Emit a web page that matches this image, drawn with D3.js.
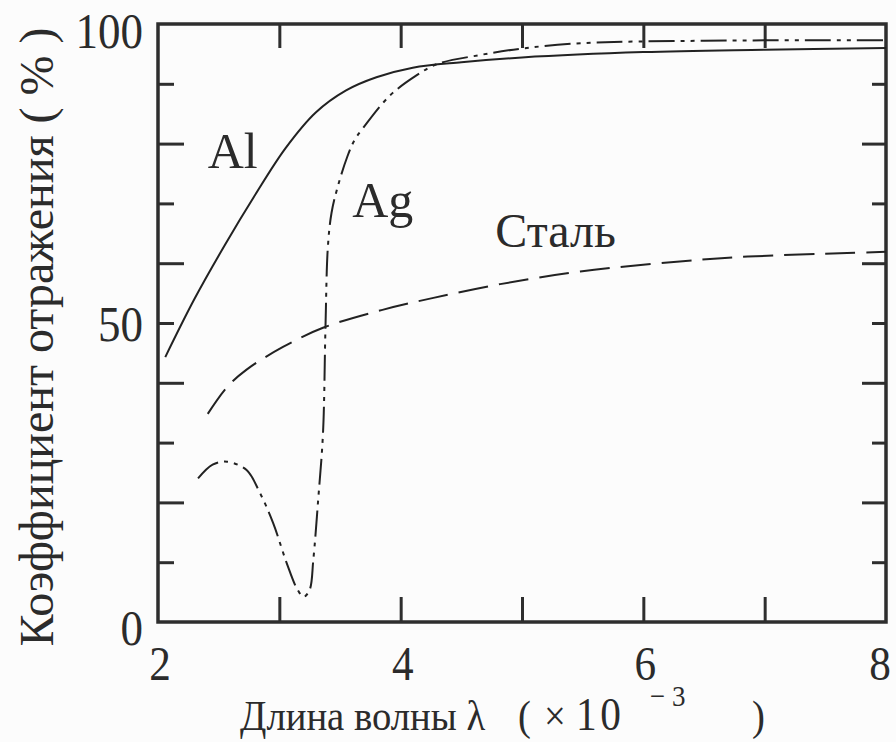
<!DOCTYPE html>
<html>
<head>
<meta charset="utf-8">
<script src="https://cdn.jsdelivr.net/npm/d3@7"></script>
<style>
  body { margin: 0; background: #fcfcfc; }
  text { font-family: "Liberation Serif", "DejaVu Serif", serif; fill: #2b2b2b; }
</style>
</head>
<body>
<div id="chart"></div>
<script>
// wavelength (x10^-3) and reflectance (%)
const alWave  = [2.06, 2.3, 2.55, 2.8, 3.05, 3.3, 3.55, 3.8, 4.1, 4.5, 5.0, 6.0, 7.0, 8.0];
const alRefl  = [44.3, 54.0, 63.0, 71.4, 79.2, 85.2, 88.9, 91.1, 92.7, 93.6, 94.4, 95.3, 95.7, 96.0];

const agWave  = [2.33, 2.45, 2.57, 2.73, 2.84, 2.95, 3.06, 3.15, 3.2, 3.25, 3.28, 3.32, 3.36, 3.38, 3.40, 3.43, 3.48, 3.56, 3.62, 3.69, 3.91, 4.13, 4.3, 4.65, 5.0, 5.5, 6.5, 8];
const agRefl  = [24, 26.3, 26.8, 25.4, 21.6, 16.5, 9.9, 5.4, 4.2, 5.4, 10.4, 20.4, 31.6, 49, 62.7, 68.4, 72.7, 77.8, 80.6, 82.6, 88.0, 91.4, 93.3, 94.8, 95.9, 96.8, 97.2, 97.3];

const steelWave = [2.41, 2.57, 2.73, 3.03, 3.36, 3.85, 4.27, 4.82, 5.48, 6.3, 6.86, 7.68, 8];
const steelRefl = [34.8, 39.3, 42.2, 46, 49.2, 52.2, 54.2, 56.5, 58.6, 60.3, 61.1, 61.7, 61.9];

const xTickLabels = [2, 4, 6, 8];
const xMinorTicks = [3, 4, 5, 6, 7];
const yTickLabels = [0, 50, 100];
const yLongTicks  = [20, 40, 60, 80];
const yShortTicks = [10, 30, 50, 70, 90];

const seriesNames = ['Al', 'Ag', 'Сталь'];

const W = 896, H = 742;
const margin = { top: 24, right: 10, bottom: 120, left: 158 };
const width = W - margin.left - margin.right;
const height = H - margin.top - margin.bottom;

const svg = d3.select('#chart')
    .append('svg')
    .attr('width', W)
    .attr('height', H);

const g = svg.append('g')
    .attr('transform', `translate(${margin.left},${margin.top})`);

const x = d3.scaleLinear().domain([2, 8]).range([0, width]);
const y = d3.scaleLinear().domain([0, 100]).range([height, 0]);

const ink = '#2e2e2e';

// inward ticks on all four sides
function tickAxis(axis, transform) {
    const a = g.append('g')
        .attr('transform', transform)
        .call(axis.tickFormat(''));
    a.select('.domain').remove();
    a.selectAll('line').attr('stroke', ink).attr('stroke-width', 3);
}
tickAxis(d3.axisLeft(y).tickValues(yLongTicks).tickSize(-26), '');
tickAxis(d3.axisLeft(y).tickValues(yShortTicks).tickSize(-16), '');
tickAxis(d3.axisRight(y).tickValues(yLongTicks).tickSize(-24), `translate(${width},0)`);
tickAxis(d3.axisRight(y).tickValues(yShortTicks).tickSize(-14), `translate(${width},0)`);
tickAxis(d3.axisBottom(x).tickValues(xMinorTicks).tickSize(-25), `translate(0,${height})`);
tickAxis(d3.axisTop(x).tickValues(xMinorTicks).tickSize(-24), '');

// frame
g.append('rect')
    .attr('width', width)
    .attr('height', height)
    .attr('fill', 'none')
    .attr('stroke', ink)
    .attr('stroke-width', 3.5);

// tick labels (the scan's type is a little narrow, so squeeze it)
const yLabShift = { 0: 23, 50: 18, 100: 24 };
g.selectAll('.ylab')
    .data(yTickLabels)
    .enter().append('text')
    .attr('class', 'ylab')
    .attr('transform', d => `translate(-15,${y(d) + yLabShift[d]}) scale(0.9,1)`)
    .attr('text-anchor', 'end')
    .style('font-size', '50px')
    .text(d => d);

g.selectAll('.xlab')
    .data(xTickLabels)
    .enter().append('text')
    .attr('class', 'xlab')
    .attr('transform', d => `translate(${x(d) + (d === 8 ? -6 : 2)},${height + 58}) scale(0.9,1)`)
    .attr('text-anchor', 'middle')
    .style('font-size', '48px')
    .text(d => d);

// curves
const line = d3.line()
    .x(d => x(d[0]))
    .y(d => y(d[1]))
    .curve(d3.curveCatmullRom.alpha(0.5));

const zip = (a, b) => a.map((v, i) => [v, b[i]]);

g.append('path')
    .datum(zip(alWave, alRefl))
    .attr('d', line)
    .attr('fill', 'none')
    .attr('stroke', '#222')
    .attr('stroke-width', 2);

g.append('path')
    .datum(zip(agWave, agRefl))
    .attr('d', line)
    .attr('fill', 'none')
    .attr('stroke', '#222')
    .attr('stroke-width', 2)
    .attr('stroke-dasharray', '26,6,4,6,4,6');

g.append('path')
    .datum(zip(steelWave, steelRefl))
    .attr('d', line)
    .attr('fill', 'none')
    .attr('stroke', '#222')
    .attr('stroke-width', 2)
    .attr('stroke-dasharray', '30,11');

// series labels
const labelPos = [[2.41, 75.9], [3.6, 67.7], [4.78, 62.7]];
g.selectAll('.slab')
    .data(seriesNames)
    .enter().append('text')
    .attr('class', 'slab')
    .attr('x', (d, i) => x(labelPos[i][0]))
    .attr('y', (d, i) => y(labelPos[i][1]))
    .style('font-size', (d, i) => i === 2 ? '48px' : '50px')
    .text(d => d);

// x axis title, pieces placed as in the scan
svg.append('text')
    .attr('transform', 'translate(240,730) scale(0.9,1)')
    .style('font-size', '43px')
    .text('Длина волны λ');
svg.append('text')
    .attr('transform', 'translate(518,730) scale(0.9,1)')
    .style('font-size', '43px')
    .text('(');
svg.append('text')
    .attr('transform', 'translate(544,730) scale(0.9,1)')
    .style('font-size', '43px')
    .text('×');
svg.append('text')
    .attr('transform', 'translate(576,730) scale(0.9,1)')
    .style('font-size', '46px')
    .style('letter-spacing', '4px')
    .text('10');
svg.append('text')
    .attr('transform', 'translate(650,706) scale(0.9,1)')
    .style('font-size', '30px')
    .text('− 3');
svg.append('text')
    .attr('transform', 'translate(752,730) scale(0.9,1)')
    .style('font-size', '43px')
    .text(')');

// y axis title
svg.append('text')
    .attr('transform', 'translate(53,337) rotate(-90)')
    .attr('text-anchor', 'middle')
    .style('font-size', '48px')
    .text('Коэффициент отражения ( % )');
</script>
</body>
</html>
